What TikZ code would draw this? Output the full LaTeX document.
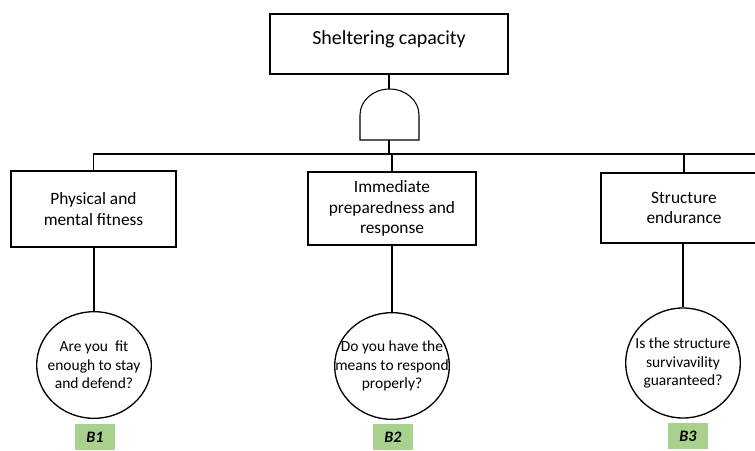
\documentclass[tikz,border=0pt]{standalone}
\usepackage{fontspec}
\setmainfont{Carlito}
\usetikzlibrary{shapes.geometric}
\definecolor{tagGreen}{RGB}{169,209,142}
\tikzset{
  event/.style={draw, line width=1.4pt, minimum width=125pt, minimum height=55pt, align=center, font=\fontsize{13}{15.5}\selectfont},
  basic/.style={draw, ellipse, line width=1pt, minimum width=86pt, minimum height=80pt, inner xsep=-15pt, inner ysep=0pt, align=center, font=\fontsize{11.6}{13.8}\selectfont},
  tag/.style={fill=tagGreen, minimum width=30pt, minimum height=19.5pt, inner sep=0pt, font=\fontsize{12}{14}\selectfont\bfseries\itshape},
  wire/.style={line width=0.8pt}
}

\begin{document}
\begin{tikzpicture}[x=0.75pt, y=-0.75pt]
        \useasboundingbox (0,0) rectangle (755,450);
        \clip (0,0) rectangle (755,450);

        % Top event
        \node[event, minimum width=178.5pt, minimum height=45pt, text depth=10pt, font=\fontsize{15}{18}\selectfont] (top) at (389,44) {Sheltering capacity};

        % AND gate
        \coordinate (gateTop) at (389,89);
        \coordinate (gateBot) at (389,140);
        \coordinate (bus) at (389,154);
        \coordinate (busEnd) at (760,154);
        \draw[wire] (360,140) -- (360,115) arc[start angle=180, end angle=360, x radius=29.5, y radius=26] -- (419,140) -- cycle;
        \draw[wire] (top) -- (gateTop);
        \draw[wire] (gateBot) -- (bus);

        % Intermediate events
        \node[event, minimum width=124pt, minimum height=57pt] (fit) at (93.5,209) {Physical and\\mental fitness};
        \node[event, minimum width=126pt, minimum height=55pt] (prep) at (392,208.5) {Immediate\\preparedness and\\response};
        \node[event, minimum width=124.5pt, minimum height=52.5pt] (struct) at (684,208) {Structure\\endurance};
        \draw[wire] (fit.north) |- (busEnd);
        \draw[wire] (prep.north) -- (prep.north |- bus);
        \draw[wire] (struct.north) -- (struct.north |- bus);

        % Basic events and labels
        \node[basic] (q1) at (94,365) {Are you\ \ fit\\enough to stay\\and defend?};
        \node[basic] (q2) at (392,366) {Do you have the\\means to respond\\properly?};
        \node[basic, minimum height=82.5pt] (q3) at (683,363) {Is the structure\\survivavility\\guaranteed?};
        \draw[wire] (fit.south -| q1) -- (q1);
        \draw[wire] (prep.south -| q2) -- (q2);
        \draw[wire] (struct.south -| q3) -- (q3);

        \node[tag] (b1) at (95,437) {B1};
        \node[tag] (b2) at (393,437) {B2};
        \node[tag] (b3) at (688,436) {B3};
    \end{tikzpicture}
\end{document}
